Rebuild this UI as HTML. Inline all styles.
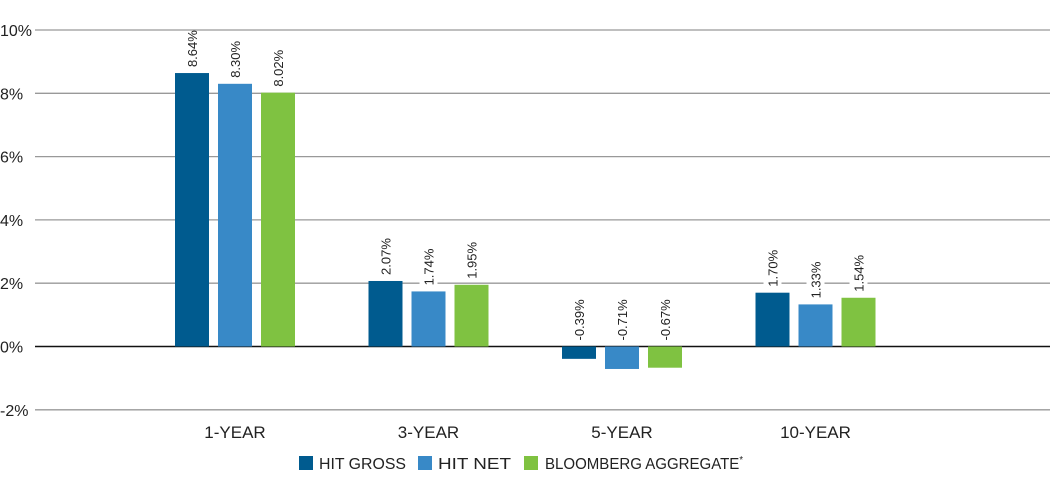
<!DOCTYPE html>
<html><head><meta charset="utf-8"><style>
body{margin:0;background:#fff;}
svg text{font-family:"Liberation Sans Narrow","Liberation Sans",sans-serif;fill:#222;}
</style></head><body>
<svg id="chart" width="1050" height="478" xmlns="http://www.w3.org/2000/svg">
<g id="grid"></g><g id="bars"></g><g id="labels"></g><g id="cats"></g>
<g id="legend">
<rect x="299" y="456" width="14" height="14" fill="#005b8f"/>
<text x="319" y="469" font-size="16" textLength="87" lengthAdjust="spacingAndGlyphs">HIT GROSS</text>
<rect x="418" y="456" width="14" height="14" fill="#3889c7"/>
<text x="438" y="469" font-size="16" textLength="73" lengthAdjust="spacingAndGlyphs">HIT NET</text>
<rect x="524" y="456" width="14" height="14" fill="#7fc241"/>
<text x="545" y="469" font-size="16" textLength="198" lengthAdjust="spacingAndGlyphs">BLOOMBERG AGGREGATE<tspan font-size="10" dy="-6">*</tspan></text>
</g>
</svg>
<script>
const categories=["1-YEAR","3-YEAR","5-YEAR","10-YEAR"];
const hitGross=[8.64,2.07,-0.39,1.70];
const hitNet=[8.30,1.74,-0.71,1.33];
const bloomberg=[8.02,1.95,-0.67,1.54];
const yTicks=[-2,0,2,4,6,8,10];
const seriesNames=["hit-gross","hit-net","bloomberg"];
const colors=["#005b8f","#3889c7","#7fc241"];
const NS="http://www.w3.org/2000/svg";
function y(v){return 346.5-v*31.65;}
function xc(i){return 235+i*193.5;}
function mk(t,a,p){const e=document.createElementNS(NS,t);for(const k in a)e.setAttribute(k,a[k]);p.appendChild(e);return e;}
const grid=document.getElementById('grid');
yTicks.forEach(t=>{
  const l=mk('line',{x1:35,x2:1050,y1:y(t),y2:y(t),stroke:t===0?'#111':'#999','stroke-width':t===0?1.6:1.3},grid);
  
  
  const tx=mk('text',{x:0,y:y(t)+6,'font-size':16},grid);
  tx.textContent=t+'%';
  
  
});
const series=[hitGross,hitNet,bloomberg];
const bars=document.getElementById('bars'),labels=document.getElementById('labels'),cats=document.getElementById('cats');
categories.forEach((c,i)=>{
  series.forEach((s,j)=>{
    const v=s[i];const cx=xc(i)+(j-1)*43;
    const top=Math.min(y(v),y(0)),h=Math.abs(y(v)-y(0));
    const r=mk('rect',{x:cx-17,y:top,width:34,height:h,fill:colors[j]},bars);
    
    
    const by=(v>=0?y(v):y(0))-6;
    const str=v.toFixed(2)+'%';
    const w=str.length*6.6;
    const bg=mk('rect',{x:cx-9,y:by-w-2,width:18,height:w+4,fill:'#fff'},labels);
    
    
    const t=mk('text',{x:0,y:0,'font-size':13,transform:`translate(${cx+5},${by}) rotate(-90)`},labels);
    t.textContent=str;
    
    
  });
  const ct=mk('text',{x:xc(i),y:438,'font-size':17,'text-anchor':'middle'},cats);
  ct.textContent=c;
  
  
});
</script>
</body></html>
